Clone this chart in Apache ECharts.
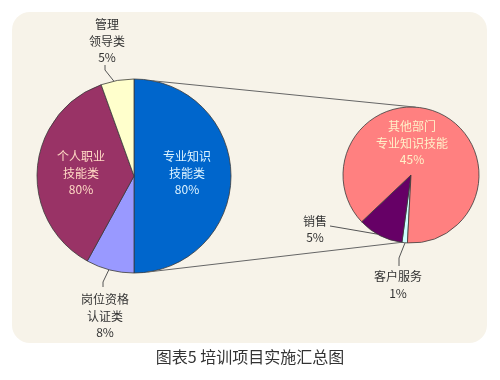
<!DOCTYPE html>
<html><head><meta charset="utf-8">
<script src="https://cdn.jsdelivr.net/npm/echarts@6/dist/echarts.min.js"></script>
<style>html,body{margin:0;padding:0;background:#fff}#c{width:500px;height:380px}</style>
</head><body><div id="c"></div>
<script>
// ---- data ----
const mainNames = ['专业知识\n技能类', '岗位资格\n认证类', '个人职业\n技能类', '管理\n领导类'];
const mainShares = [50, 8, 36.5, 5.5];          // slice sizes as drawn
const mainPctLabels = ['80%', '8%', '80%', '5%'];  // printed percentages
const subNames = ['客户服务', '销售', '其他部门\n专业知识技能'];
const subShares = [1.3, 10.8, 87.9];
const subPctLabels = ['1%', '5%', '45%'];
const titleText = '图表5 培训项目实施汇总图';

// ---- styles / layout ----
const mainColors = ['#0066CC', '#9999FF', '#993366', '#FFFFCC'];
const subColors = ['#CCFFFF', '#660066', '#FF8080'];
const mainLabelColors = ['#DDF4FF', '#333', '#FFD9C4', '#333'];
const subLabelColors = ['#333', '#333', '#FFF0C8'];
const mainInside = [true, false, true, false];
const subInside = [false, false, true];
const L = {cx: 134, cy: 176, r: 97};
const R = {cx: 411, cy: 175, r: 68};
function pt(c, ang, rr) {
  const a = ang * Math.PI / 180;
  return [c.cx + rr * Math.sin(a), c.cy - rr * Math.cos(a)];
}
function rel(c, dx, dy) { return [c.cx + dx, c.cy + dy]; }
const mainLabelOff = [[53, -3], [-29, 140], [-53, -3], [-27, -135]];
const subLabelOff = [[-13, 110], [-96, 54.5], [1, -32]];
const mainLines = [null, [pt(L, 195, L.r), rel(L, -31, 106), rel(L, -31, 111)], null,
                   [pt(L, 348, L.r), rel(L, -29, -106), rel(L, -29, -111)]];
const subLines = [[pt(R, 185, R.r), rel(R, -12, 83), rel(R, -12, 91)],
                  [pt(R, 209.5, R.r), rel(R, -75, 52), rel(R, -81, 51)], null];

const FONT = '"Noto Sans CJK SC", "Noto Sans", sans-serif';
function makeData(names, shares, colors, inside, lcolors) {
  return shares.map((v, i) => ({
    value: v, name: names[i],
    itemStyle: {color: colors[i]},
    label: inside[i] ? {position: 'inside', color: lcolors[i]} : {position: 'outside', color: lcolors[i]},
    labelLine: {show: !inside[i]}
  }));
}
function layoutFn(c, offs, lines) {
  return function (p) {
    const i = p.dataIndex;
    const o = {x: c.cx + offs[i][0], y: c.cy + offs[i][1], align: 'center', verticalAlign: 'middle'};
    if (lines[i]) o.labelLinePoints = lines[i];
    return o;
  };
}
const baseSeries = {
  type: 'pie', animation: false, avoidLabelOverlap: false,
  clockwise: true,
  itemStyle: {borderColor: '#3a3a3a', borderWidth: 0.8},
  emphasis: {disabled: true},
  label: {show: true, fontSize: 12, lineHeight: 16.5, fontFamily: FONT, align: 'center'},
  labelLine: {show: true, lineStyle: {color: '#555', width: 1}}
};

const chart = echarts.init(document.getElementById('c'), null, {renderer: 'canvas'});
const t1 = pt(L, 11, L.r), t2 = pt(R, 4, R.r), b1 = pt(L, 172, L.r), b2 = pt(R, 188, R.r);
chart.setOption({
  animation: false,
  title: {text: titleText, left: 'center', top: 349, padding: 0,
          textStyle: {fontSize: 16, fontWeight: 'normal', color: '#333', fontFamily: FONT}},
  graphic: [
    {type: 'rect', z: -10, shape: {x: 12, y: 12, width: 475, height: 331, r: 18},
     style: {fill: '#F7F3E9'}},
    {type: 'line', z: 10, shape: {x1: t1[0], y1: t1[1], x2: t2[0], y2: t2[1]},
     style: {stroke: '#666', lineWidth: 1}},
    {type: 'line', z: 10, shape: {x1: b1[0], y1: b1[1], x2: b2[0], y2: b2[1]},
     style: {stroke: '#666', lineWidth: 1}}
  ],
  series: [
    Object.assign({}, baseSeries, {
      name: 'main', center: [L.cx, L.cy], radius: [0, L.r], startAngle: 90,
      data: makeData(mainNames, mainShares, mainColors, mainInside, mainLabelColors),
      label: Object.assign({}, baseSeries.label, {
        formatter: p => mainNames[p.dataIndex] + '\n' + mainPctLabels[p.dataIndex]}),
      labelLayout: layoutFn(L, mainLabelOff, mainLines)
    }),
    Object.assign({}, baseSeries, {
      name: 'sub', center: [R.cx, R.cy], radius: [0, R.r], startAngle: 267,
      data: makeData(subNames, subShares, subColors, subInside, subLabelColors),
      label: Object.assign({}, baseSeries.label, {
        formatter: p => subNames[p.dataIndex] + '\n' + subPctLabels[p.dataIndex]}),
      labelLayout: layoutFn(R, subLabelOff, subLines)
    })
  ]
});
</script>
</body></html>
